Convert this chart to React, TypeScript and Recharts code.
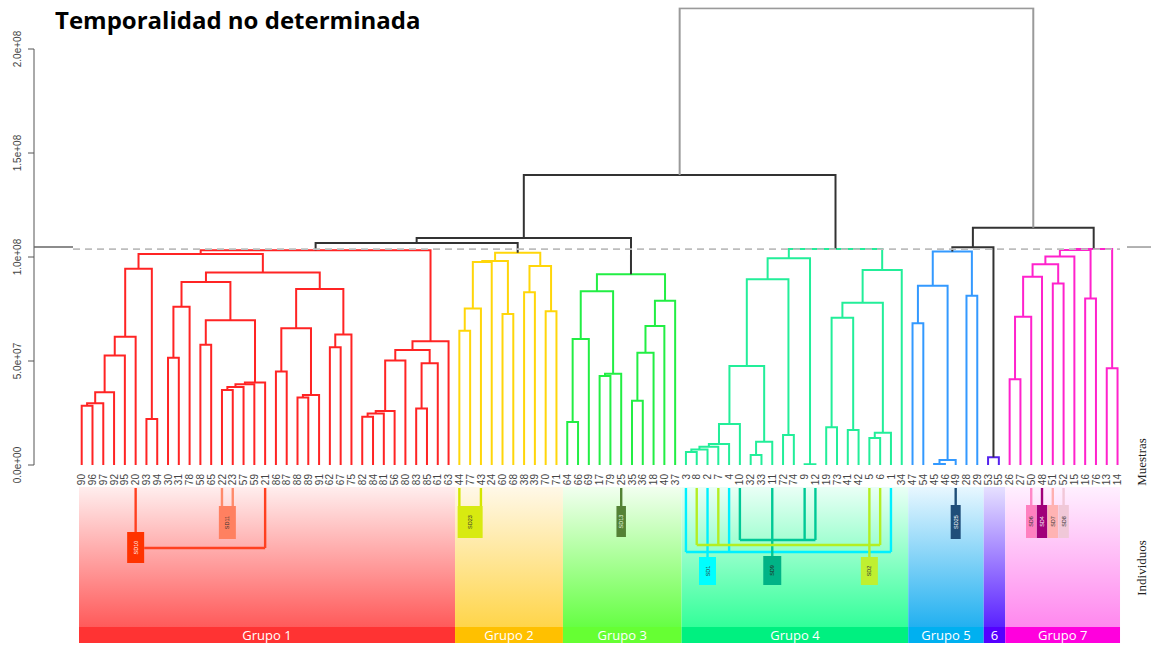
import React from 'react';
import { LineChart, ComposedChart, Line, XAxis, YAxis, ReferenceLine, ReferenceArea } from 'recharts';

// ---------- DATA ----------
const leafLabels = [
  '90','96','97','92','95','20','93','94','30','31','78','58','65','22','23','57','59','21','86','87','88','89','91','62','67','75','82','84','81','56','80','83','85','61','63',
  '44','77','43','24','60','68','38','39','70','71',
  '64','66','69','17','79','25','35','36','18','40','37',
  '3','8','2','7','4','10','32','33','11','72','74','9','12','19','73','41','42','5','6','1','34',
  '47','54','45','46','49','28','29',
  '53','55',
  '26','27','50','48','51','52','15','16','76','13','14',
];
const groupNames = ['Grupo 1', 'Grupo 2', 'Grupo 3', 'Grupo 4', 'Grupo 5', '6', 'Grupo 7'];
const groupSizes = [35, 10, 11, 21, 7, 2, 11];
const yTicks = [0, 50, 100, 150, 200]; // ×1e6
const cutHeight = 103.8; // ×1e6

// merges: [left, right, height ×1e6]; negative = leaf label, positive = merge number (1-based)
const merges: [number, number, number][] = [
  // Grupo 1
  [-90, -96, 28.5], [1, -97, 29.7], [2, -92, 35.0], [3, -95, 52.7], [4, -20, 61.7],
  [-93, -94, 22.1], [5, 6, 94.4], [-30, -31, 51.6], [8, -78, 76.1], [-58, -65, 57.8],
  [-22, -23, 36.1], [11, -57, 37.5], [12, -59, 38.8], [13, -21, 39.7], [10, 14, 69.6],
  [9, 15, 88.0], [-86, -87, 44.9], [-88, -89, 32.4], [18, -91, 33.7], [17, 19, 65.7],
  [-62, -67, 56.6], [21, -75, 62.8], [20, 22, 84.6], [16, 23, 92.5], [7, 24, 101.4],
  [-82, -84, 23.2], [26, -81, 24.8], [27, -56, 26.0], [28, -80, 50.2], [-83, -85, 27.2],
  [30, -61, 48.9], [29, 31, 55.3], [32, -63, 59.5], [25, 33, 103.2],
  // Grupo 2
  [-44, -77, 64.6], [35, -43, 75.2], [36, -24, 97.6], [-60, -68, 72.6], [37, 38, 98.1],
  [-38, -39, 83.0], [-70, -71, 73.9], [40, 41, 95.7], [39, 42, 102.1],
  // Grupo 3
  [-64, -66, 20.7], [44, -69, 60.6], [-17, -79, 42.8], [46, -25, 43.9], [45, 47, 83.5],
  [-35, -36, 30.9], [49, -18, 54.0], [50, -40, 66.8], [51, -37, 79.0], [48, 52, 91.7],
  // Grupo 4
  [-3, -8, 6.25], [54, -2, 7.5], [55, -7, 8.8], [56, -4, 10.1], [57, -10, 19.7],
  [-32, -33, 4.8], [59, -11, 11.2], [58, 60, 47.6], [-72, -74, 14.4], [61, 62, 89.3],
  [-9, -12, 0.4], [63, 64, 99.4], [-19, -73, 18.1], [-41, -42, 16.8], [66, 67, 70.8],
  [-5, -6, 13.0], [69, -1, 15.5], [68, 70, 78.0], [71, -34, 93.75], [65, 72, 103.8],
  // Grupo 5
  [-47, -54, 68.1], [-45, -46, 0.5], [75, -49, 2.4], [74, 76, 86.2], [-28, -29, 81.4], [77, 78, 102.6],
  // 6
  [-53, -55, 3.7],
  // Grupo 7
  [-26, -27, 41.2], [81, -50, 71.3], [82, -48, 90.5], [-51, -52, 87.3], [83, 84, 96.5],
  [85, -15, 100.2], [-16, -76, 80.1], [86, 87, 103.4], [-13, -14, 46.5], [88, 89, 103.8],
  // above the cut
  [34, 43, 106.7], [91, 53, 109.1], [92, 73, 139.4], [79, 80, 104.7], [94, 90, 114.1], [93, 95, 219.6],
];

// Individuos (sub-groups shown under the leaves)
const sdNames = ['SD10', 'SD11', 'SD23', 'SD13', 'SD1', 'SD9', 'SD2', 'SD25', 'SD6', 'SD4', 'SD7', 'SD8'];
const sdLeaves = [
  ['20', '21'], ['22', '23'], ['44', '43'], ['25'], ['3', '2', '4', '1'], ['10', '11', '9', '12'],
  ['8', '7', '5', '6'], ['49'], ['50'], ['48'], ['51'], ['52'],
];
const sdAnchor = [
  ['20'], ['22', '23'], ['44', '43'], ['25'], ['2'], ['11'], ['5'], ['49'], ['50'], ['48'], ['51'], ['52'],
];

// ---------- STYLE ----------
const groupLine = ['#ff2424', '#ffd60a', '#22ee44', '#22ee99', '#3399ff', '#5522ee', '#ff22cc'];
const groupTop = ['#ffeeee', '#fff8e8', '#f2fff0', '#eafff6', '#e8f7ff', '#e6e0ff', '#fff0ff'];
const groupBottom = ['#ff5a5a', '#ffd54a', '#66ff44', '#33ff99', '#22b0f0', '#5a22ff', '#ff88ee'];
const groupBar = ['#ff3333', '#ffc000', '#66ff33', '#00f080', '#00b0f0', '#5500ff', '#ff00dd'];

// w: box width px, top/bottom: box extent (px below panel top), join: connector level
const sdStyle = [
  { w: 17, top: 45, bottom: 76, join: 61, line: '#ff4020', box: '#ff3300', text: '#ffffff' },
  { w: 17, top: 19, bottom: 52, join: null, line: '#ff8a6a', box: '#ff8060', text: '#333333' },
  { w: 25, top: 19, bottom: 51, join: null, line: '#d4e600', box: '#d8ea10', text: '#333333' },
  { w: 9.5, top: 19, bottom: 50, join: null, line: '#548235', box: '#548235', text: '#e8ffe0' },
  { w: 17, top: 70, bottom: 98, join: 65, line: '#00f0ff', box: '#00ffff', text: '#333333' },
  { w: 18, top: 69, bottom: 98, join: 53, line: '#00c896', box: '#00b386', text: '#222222' },
  { w: 17, top: 70, bottom: 98, join: 58, line: '#b4ee22', box: '#bff030', text: '#333333' },
  { w: 10, top: 18, bottom: 52, join: null, line: '#1f4e79', box: '#1f4e79', text: '#ffffff' },
  { w: 10.5, top: 18, bottom: 51, join: null, line: '#ff88c8', box: '#ff80c0', text: '#333333' },
  { w: 10.5, top: 18, bottom: 51, join: null, line: '#a0007a', box: '#a0007a', text: '#ffffff' },
  { w: 10.5, top: 18, bottom: 51, join: null, line: '#ffb0b0', box: '#ffb3b3', text: '#333333' },
  { w: 10.5, top: 18, bottom: 51, join: null, line: '#f2c8d8', box: '#f0c8d8', text: '#333333' },
];

// ---------- LAYOUT ----------
const W = 1151;
const PLOT_LEFT = 34;
const LEAF0_PX = 81.7;
const DX = 10.79;
const pxToIdx = (px: number) => (px - LEAF0_PX) / DX;
const XMIN = pxToIdx(PLOT_LEFT);
const XMAX = pxToIdx(W);
const FONT = 'Liberation Sans, Arial, sans-serif';

// ---------- DERIVED ----------
const leafIndex: Record<string, number> = {};
leafLabels.forEach((l, i) => { leafIndex[l] = i; });
const leafGroup: number[] = [];
groupSizes.forEach((n, g) => { for (let k = 0; k < n; k++) leafGroup.push(g); });

type Node = { x: number; h: number; groups: number[] };
const nodes: Node[] = [];
const refNode = (r: number): Node => {
  if (r < 0) {
    const i = leafIndex[String(-r)];
    return { x: i, h: 0, groups: [leafGroup[i]] };
  }
  return nodes[r - 1];
};
const segments: { data: { x: number; y: number }[]; color: string }[] = [];
merges.forEach(([a, b, h], k) => {
  const A = refNode(a);
  const B = refNode(b);
  const groups = Array.from(new Set([...A.groups, ...B.groups]));
  nodes.push({ x: (A.x + B.x) / 2, h, groups });
  const color = groups.length === 1 ? groupLine[groups[0]] : k === merges.length - 1 ? '#9a9a9a' : '#333333';
  segments.push({
    data: [{ x: A.x, y: A.h }, { x: A.x, y: h }, { x: B.x, y: h }, { x: B.x, y: B.h }],
    color,
  });
});

const groupRanges: { x1: number; x2: number }[] = [];
{
  let start = 0;
  groupSizes.forEach((n, g) => {
    const first = start;
    const last = start + n - 1;
    groupRanges.push({
      x1: g === 0 ? first - 0.25 : first - 0.4,
      x2: g === groupSizes.length - 1 ? last + 0.23 : last + 0.6,
    });
    start += n;
  });
}

type Seg = { data: { x: number; y: number }[]; color: string };
const sdLines: Seg[] = [];
const sdBoxes: { x1: number; x2: number; y1: number; y2: number; fill: string; text: string; name: string }[] = [];
sdNames.forEach((name, k) => {
  const st = sdStyle[k];
  const xs = sdLeaves[k].map((l) => leafIndex[l]);
  const anchors = sdAnchor[k].map((l) => leafIndex[l]);
  const cx = anchors.reduce((s, v) => s + v, 0) / anchors.length;
  const half = st.w / DX / 2;
  const boxL = cx - half;
  const boxR = cx + half;
  xs.forEach((x) => {
    const isAnchor = anchors.includes(x);
    const end = st.join == null || isAnchor ? st.top : st.join;
    sdLines.push({ data: [{ x, y: 1 }, { x, y: end }], color: st.line });
  });
  if (st.join != null) {
    const mn = Math.min(...xs);
    const mx = Math.max(...xs);
    const inside = st.join >= st.top && st.join <= st.bottom;
    if (!inside) {
      sdLines.push({ data: [{ x: mn, y: st.join }, { x: mx, y: st.join }], color: st.line });
    } else {
      if (mn < boxL) sdLines.push({ data: [{ x: mn, y: st.join }, { x: boxL, y: st.join }], color: st.line });
      if (mx > boxR) sdLines.push({ data: [{ x: boxR, y: st.join }, { x: mx, y: st.join }], color: st.line });
    }
  }
  sdBoxes.push({ x1: boxL, x2: boxR, y1: st.top, y2: st.bottom, fill: st.box, text: st.text, name });
});

const fmtSci = (v: number) => (v * 1e6).toExponential(1).replace(/e([+-])(\d)$/, 'e$10$2');

// ---------- COMPONENTS ----------
const YTick = (props: any) => {
  const { y, payload } = props;
  return (
    <text transform={`translate(21, ${y}) rotate(-90)`} textAnchor="middle" fontSize={10} fill="#444" fontFamily={FONT}>
      {fmtSci(payload.value)}
    </text>
  );
};

const LeafTick = (props: any) => {
  const { x, payload } = props;
  return (
    <text transform={`translate(${x + 3.6}, 474) rotate(-90)`} textAnchor="end" fontSize={10} fill="#444" fontFamily={FONT}>
      {leafLabels[payload.value]}
    </text>
  );
};

const BoxLabel = (props: any) => {
  const { viewBox, text, color } = props;
  if (!viewBox) return null;
  const cx = viewBox.x + viewBox.width / 2;
  const cy = viewBox.y + viewBox.height / 2;
  return (
    <text transform={`translate(${cx + 2}, ${cy}) rotate(-90)`} textAnchor="middle" fontSize={5.5} fill={color} fontFamily={FONT}>
      {text}
    </text>
  );
};

const GroupLabel = (props: any) => {
  const { viewBox, text } = props;
  if (!viewBox) return null;
  const cx = viewBox.x + viewBox.width / 2;
  const cy = viewBox.y + viewBox.height / 2;
  return (
    <text x={cx} y={cy + 4.5} textAnchor="middle" fontSize={13} fill="#ffffff" fontFamily="Open Sans, sans-serif">
      {text}
    </text>
  );
};

export default function App() {
  return (
    <div style={{ position: 'absolute', left: 0, top: 0, width: W, height: 645, background: '#fff', overflow: 'hidden' }}>
      <div style={{ position: 'absolute', left: 0, top: 0 }}>
        <LineChart width={W} height={490} margin={{ top: 7.4, right: 0, bottom: 0, left: 0 }}>
          <XAxis
            type="number"
            dataKey="x"
            domain={[XMIN, XMAX]}
            ticks={leafLabels.map((_, i) => i)}
            interval={0}
            tick={<LeafTick />}
            tickLine={false}
            axisLine={false}
            height={25}
            allowDataOverflow
          />
          <YAxis
            type="number"
            domain={[0, 220]}
            ticks={yTicks}
            tick={<YTick />}
            width={34}
            axisLine={false}
            tickLine={{ stroke: '#555' }}
            tickSize={6}
            allowDataOverflow
          />
          <ReferenceLine segment={[{ x: XMIN, y: 0 }, { x: XMIN, y: 200 }]} stroke="#555" strokeWidth={1} ifOverflow="visible" />
          <ReferenceLine segment={[{ x: XMIN, y: 104.8 }, { x: pxToIdx(73), y: 104.8 }]} stroke="#666" strokeWidth={1.3} ifOverflow="visible" />
          <ReferenceLine segment={[{ x: pxToIdx(1127), y: 104.8 }, { x: XMAX, y: 104.8 }]} stroke="#888" strokeWidth={1.3} ifOverflow="visible" />
          {segments.map((s, i) => (
            <Line
              key={i}
              data={s.data}
              dataKey="y"
              type="linear"
              stroke={s.color}
              strokeWidth={2}
              dot={false}
              activeDot={false}
              isAnimationActive={false}
            />
          ))}
          <ReferenceLine
            segment={[{ x: pxToIdx(73), y: cutHeight }, { x: pxToIdx(1120), y: cutHeight }]}
            stroke="#bdbdbd"
            strokeWidth={1.6}
            strokeDasharray="7 5"
            ifOverflow="visible"
          />
        </LineChart>
      </div>
      <div style={{ position: 'absolute', left: 0, top: 485 }}>
        <ComposedChart width={W} height={160} margin={{ top: 2, right: 0, bottom: 2, left: PLOT_LEFT }}>
          <defs>
            {groupNames.map((_, g) => (
              <linearGradient key={g} id={`grad${g}`} x1="0" y1="0" x2="0" y2="1">
                <stop offset="0%" stopColor={groupTop[g]} />
                <stop offset="100%" stopColor={groupBottom[g]} />
              </linearGradient>
            ))}
          </defs>
          <XAxis type="number" dataKey="x" domain={[XMIN, XMAX]} hide allowDataOverflow />
          <YAxis type="number" domain={[0, 156]} reversed hide allowDataOverflow />
          {groupRanges.map((r, g) => (
            <ReferenceArea key={`ga${g}`} x1={r.x1} x2={r.x2} y1={0} y2={140} fill={`url(#grad${g})`} fillOpacity={1} stroke="none" ifOverflow="visible" />
          ))}
          {groupRanges.map((r, g) => (
            <ReferenceArea
              key={`gb${g}`}
              x1={r.x1}
              x2={r.x2}
              y1={140}
              y2={156}
              fill={groupBar[g]}
              fillOpacity={1}
              stroke="none"
              ifOverflow="visible"
              label={<GroupLabel text={groupNames[g]} />}
            />
          ))}
          {sdLines.map((s, i) => (
            <Line
              key={`sl${i}`}
              data={s.data}
              dataKey="y"
              type="linear"
              stroke={s.color}
              strokeWidth={2.4}
              dot={false}
              activeDot={false}
              isAnimationActive={false}
            />
          ))}
          {sdBoxes.map((b, i) => (
            <ReferenceArea
              key={`sb${i}`}
              x1={b.x1}
              x2={b.x2}
              y1={b.y1}
              y2={b.y2}
              fill={b.fill}
              fillOpacity={1}
              stroke="none"
              ifOverflow="visible"
              label={<BoxLabel text={b.name} color={b.text} />}
            />
          ))}
        </ComposedChart>
      </div>
      <svg width={W} height={645} style={{ position: 'absolute', left: 0, top: 0, pointerEvents: 'none' }}>
        <text x={55} y={29} fontSize={24} fontWeight={700} fontFamily="Open Sans, sans-serif" fill="#000">
          Temporalidad no determinada
        </text>
        <text transform="translate(1146, 462) rotate(-90)" textAnchor="middle" fontSize={13} fontFamily="Liberation Serif, Times New Roman, serif" fill="#222">
          Muestras
        </text>
        <text transform="translate(1146, 568) rotate(-90)" textAnchor="middle" fontSize={13} fontFamily="Liberation Serif, Times New Roman, serif" fill="#222">
          Individuos
        </text>
      </svg>
    </div>
  );
}
